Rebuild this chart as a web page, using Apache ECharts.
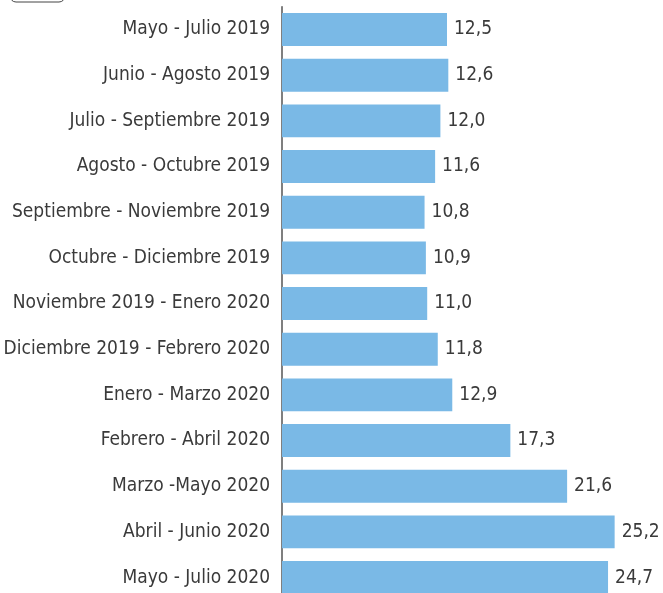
<!DOCTYPE html>
<html>
<head>
<meta charset="utf-8">
<script src="https://cdn.jsdelivr.net/npm/echarts@6/dist/echarts.min.js"></script>
<style>
  html, body { margin: 0; padding: 0; background: #fff; }
  #chart { width: 663px; height: 593px; }
</style>
</head>
<body>
<div id="chart"></div>
<script>
const periodos = [
  "Mayo - Julio 2019",
  "Junio - Agosto 2019",
  "Julio - Septiembre 2019",
  "Agosto - Octubre 2019",
  "Septiembre - Noviembre 2019",
  "Octubre - Diciembre 2019",
  "Noviembre 2019 - Enero 2020",
  "Diciembre 2019 - Febrero 2020",
  "Enero - Marzo 2020",
  "Febrero - Abril 2020",
  "Marzo -Mayo 2020",
  "Abril - Junio 2020",
  "Mayo - Julio 2020"
];
const tasas = [12.5, 12.6, 12.0, 11.6, 10.8, 10.9, 11.0, 11.8, 12.9, 17.3, 21.6, 25.2, 24.7];

const fuente = '"DejaVu Sans Condensed", sans-serif';

var myChart = echarts.init(document.getElementById("chart"));
myChart.setOption({
  animation: false,
  grid: {
    left: 282,
    top: 6.7,
    width: 13.2 * 28,
    height: 593.7,
    containLabel: false,
    outerBoundsMode: "none"
  },
  xAxis: {
    type: "value",
    min: 0,
    max: 28,
    show: false
  },
  yAxis: {
    type: "category",
    inverse: true,
    data: periodos,
    axisTick: { show: false },
    axisLine: {
      show: true,
      lineStyle: { color: "#555", width: 1.5 }
    },
    axisLabel: {
      color: "#3a3a3a",
      fontFamily: fuente,
      fontSize: 19,
      margin: 12
    }
  },
  series: [
    {
      type: "bar",
      data: tasas,
      barCategoryGap: "28%",
      itemStyle: { color: "#7ab9e6" },
      label: {
        show: true,
        position: "right",
        distance: 7,
        color: "#3a3a3a",
        fontFamily: fuente,
        fontSize: 19,
        formatter: p => p.value.toFixed(1).replace(".", ",")
      }
    }
  ],
  graphic: [
    {
      type: "rect",
      shape: { x: 10, y: -20, width: 55, height: 22, r: 6 },
      style: { fill: "none", stroke: "#444", lineWidth: 1 }
    }
  ]
});
</script>
</body>
</html>
